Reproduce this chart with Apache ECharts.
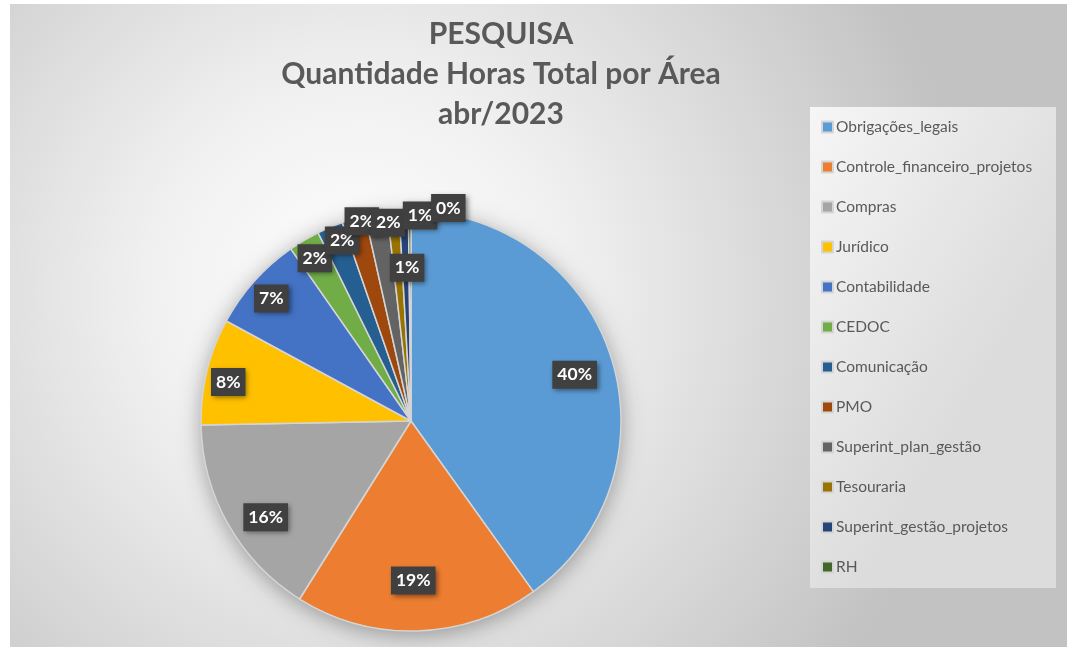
<!DOCTYPE html>
<html>
<head>
<meta charset="utf-8">
<script src="https://cdn.jsdelivr.net/npm/echarts@6/dist/echarts.min.js"></script>
<style>
  html, body { margin: 0; padding: 0; background: #ffffff; }
  #chart { width: 1067px; height: 647px; }
</style>
</head>
<body>
<div id="chart"></div>
<script>
// Share of total hours per area, April 2023 (percent)
const areas = [
  'Obrigações_legais', 'Controle_financeiro_projetos', 'Compras', 'Jurídico',
  'Contabilidade', 'CEDOC', 'Comunicação', 'PMO', 'Superint_plan_gestão',
  'Tesouraria', 'Superint_gestão_projetos', 'RH'
];
const hoursShare = [40.1, 18.8, 15.8, 8.2, 7.4, 2.4, 2.0, 1.8, 1.7, 0.9, 0.7, 0.2];
const titleLines = ['PESQUISA', 'Quantidade Horas Total por Área', 'abr/2023'];

// Office palette
const palette = ['#5B9BD5', '#ED7D31', '#A5A5A5', '#FFC000', '#4472C4', '#70AD47',
                 '#255E91', '#9E480E', '#636363', '#997300', '#264478', '#43682B'];

// Pie geometry (px) and label placement (radius factor, angular nudge in degrees)
const CX = 411, CY = 421, R = 210;
const labelReach = [0.81, 0.76, 0.83, 0.89, 0.885, 0.9, 0.92, 0.98, 0.95, 0.73, 0.98, 1.03];
const labelTurn  = [2, 1, -4, -1.6, -0.5, 0, 1.8, 2, 3, 3.4, 4.5, 10.3];

// Mid angle of each slice, clockwise from 12 o'clock
const total = hoursShare.reduce((a, b) => a + b, 0);
const midAngles = [];
let acc = 0;
hoursShare.forEach(v => { midAngles.push((acc + v / 2) / total * 360); acc += v; });

const font = 'Lato, "Open Sans", sans-serif';

const chart = echarts.init(document.getElementById('chart'), null, { renderer: 'canvas' });

chart.setOption({
  animation: false,
  color: palette,
  graphic: [
    {
      type: 'rect', z: -10, silent: true,
      shape: { x: 10, y: 4, width: 1057, height: 643 },
      style: {
        fill: {
          type: 'radial', x: 0.33, y: 0.45, r: 0.95,
          colorStops: [
            { offset: 0, color: '#ffffff' },
            { offset: 0.35, color: '#f0f0f0' },
            { offset: 1, color: '#c2c2c2' }
          ]
        }
      }
    },
    {
      type: 'rect', z: -9, silent: true,
      shape: { x: 810, y: 107, width: 246, height: 481 },
      style: {
        fill: {
          type: 'linear', x: 0, y: 0, x2: 1, y2: 0.3,
          colorStops: [
            { offset: 0, color: '#f6f6f6' },
            { offset: 1, color: '#dcdcdc' }
          ]
        }
      }
    }
  ],
  title: {
    text: titleLines.join('\n'),
    left: 501, top: 14, textAlign: 'center', padding: 0,
    textStyle: { fontFamily: font, fontSize: 30, fontWeight: 'bold', color: '#595959', lineHeight: 40 }
  },
  legend: {
    data: areas,
    orient: 'vertical',
    left: 821, top: 119, padding: 0,
    itemWidth: 11, itemHeight: 11, itemGap: 24,
    icon: 'rect',
    textStyle: { fontFamily: font, fontSize: 15.5, color: '#595959', lineHeight: 16, padding: [0, 0, 0, -2] }
  },
  series: [
    {
      // soft drop shadow under the whole pie
      type: 'pie', silent: true, z: 1,
      center: [CX, CY], radius: R,
      label: { show: false }, labelLine: { show: false },
      itemStyle: { color: '#d0d0d0', shadowBlur: 22, shadowColor: 'rgba(0,0,0,0.35)', shadowOffsetY: 4 },
      data: [{ name: '_base', value: 1 }]
    },
    {
      name: 'Horas',
      type: 'pie', z: 2,
      center: [CX, CY], radius: R,
      startAngle: 90, clockwise: true,
      minShowLabelAngle: 0,
      itemStyle: { borderColor: '#d5d5d5', borderWidth: 1.5 },
      label: {
        show: true, position: 'inside',
        formatter: p => Math.round(p.percent) + '%',
        fontFamily: font, fontSize: 17.5, fontWeight: 'bold', color: '#ffffff',
        backgroundColor: '#404040', padding: [6, 5, 4, 5],
        shadowColor: 'rgba(0,0,0,0.45)', shadowBlur: 5, shadowOffsetX: 2, shadowOffsetY: 2
      },
      labelLine: { show: false },
      labelLayout: function (p) {
        const i = p.dataIndex;
        const a = (midAngles[i] + labelTurn[i]) * Math.PI / 180;
        const r = R * labelReach[i];
        return { x: CX + r * Math.sin(a), y: CY - r * Math.cos(a), align: 'center', verticalAlign: 'middle' };
      },
      emphasis: { disabled: true },
      data: areas.map((n, i) => ({ name: n, value: hoursShare[i] }))
    }
  ]
});
</script>
</body>
</html>
